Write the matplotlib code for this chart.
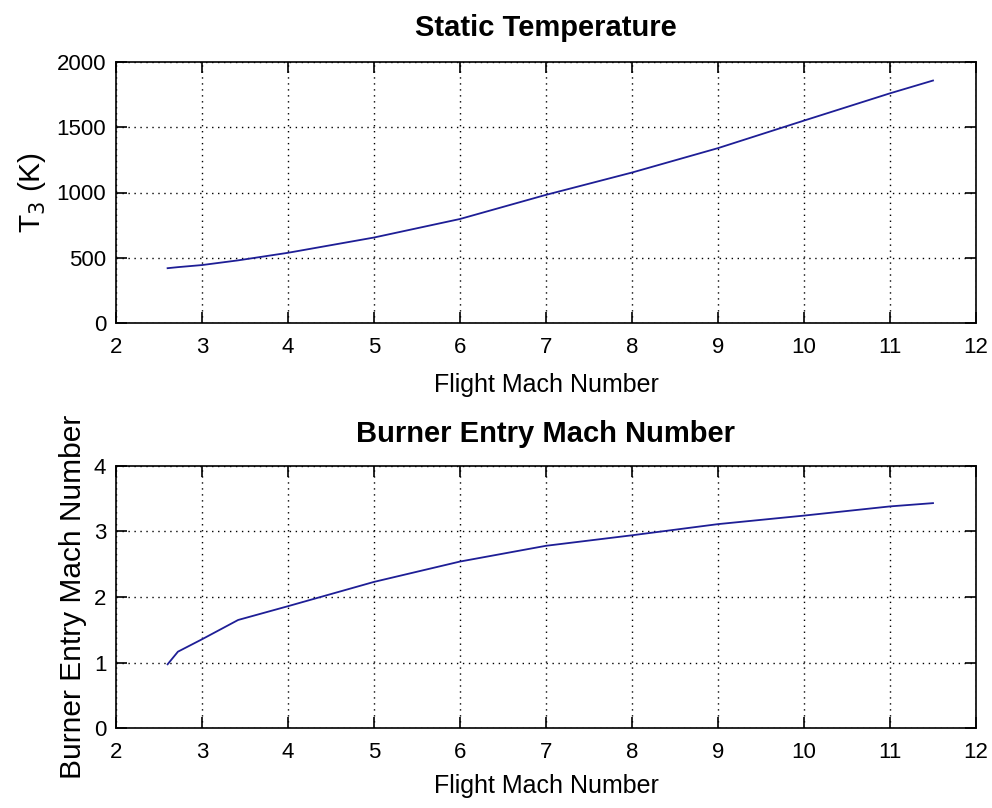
import matplotlib
matplotlib.use("Agg")
import matplotlib.pyplot as plt
from matplotlib import font_manager

# Flight Mach number sweep and the resulting inlet/burner conditions
flight_mach = [2.6, 2.72, 3.0, 3.42, 4.0, 5.0, 6.0, 7.0, 8.0, 9.0, 10.0, 11.0, 11.5]
static_temp_K = [420, 428, 444, 480, 538, 655, 797, 982, 1153, 1340, 1551, 1760, 1858]
burner_mach = [0.975, 1.167, 1.356, 1.65, 1.86, 2.23, 2.54, 2.78, 2.94, 3.11, 3.24, 3.38, 3.43]

x_ticks = [2, 3, 4, 5, 6, 7, 8, 9, 10, 11, 12]
temp_ticks = [0, 500, 1000, 1500, 2000]
mach_ticks = [0, 1, 2, 3, 4]

names = {f.name for f in font_manager.fontManager.ttflist}
family = ["Liberation Sans Narrow"] if "Liberation Sans Narrow" in names else ["Liberation Sans"]
plt.rcParams["font.family"] = family + ["DejaVu Sans"]

line_color = "#1e1e96"

fig = plt.figure(figsize=(9.92, 8.08), dpi=100)
ax1 = fig.add_axes([116 / 992, 1 - 323 / 808, 860 / 992, 261 / 808])
ax2 = fig.add_axes([116 / 992, 1 - 728.3 / 808, 860 / 992, 262.6 / 808])


def style(ax, yticks, ylim):
    ax.set_xlim(2, 12)
    ax.set_ylim(*ylim)
    ax.set_xticks(x_ticks)
    ax.set_yticks(yticks)
    ax.grid(True, linestyle=(0, (1, 3.3)), color="black", linewidth=1.0)
    ax.tick_params(direction="in", top=True, right=True, length=8, width=1.2,
                   labelsize=16, colors="black")
    ax.tick_params(axis="x", pad=10)
    ax.tick_params(axis="y", pad=7)
    for s in ax.spines.values():
        s.set_linewidth(1.2)


ax1.plot(flight_mach, static_temp_K, color=line_color, linewidth=1.3)
style(ax1, temp_ticks, (0, 2000))
ax1.set_title("Static Temperature", fontsize=21, fontweight="bold", pad=19)
ax1.set_xlabel("Flight Mach Number", fontsize=18, labelpad=11)
ax1.set_ylabel("T$_3$ (K)", fontsize=21.5, labelpad=6)

ax2.plot(flight_mach, burner_mach, color=line_color, linewidth=1.3)
style(ax2, mach_ticks, (0, 4))
ax2.set_title("Burner Entry Mach Number", fontsize=21, fontweight="bold", pad=17)
ax2.set_xlabel("Flight Mach Number", fontsize=18, labelpad=8)
ax2.set_ylabel("Burner Entry Mach Number", fontsize=21.5, labelpad=5)

fig.savefig("out.png", dpi=100)
